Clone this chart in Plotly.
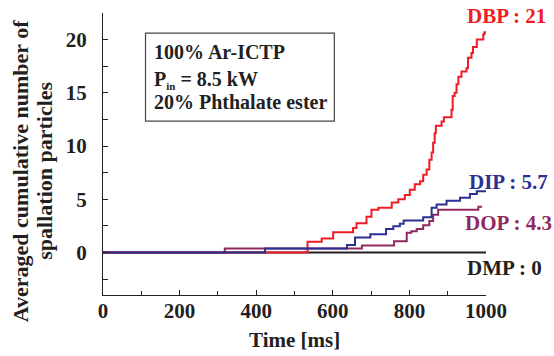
import plotly.graph_objects as go

# Step data (time in ms at which the cumulative count changes, value after step)
dbp_t = [0, 534, 571, 601, 653, 662, 688, 701, 719, 754, 771, 788, 801, 814, 828, 836, 845, 852,
         858, 862, 866, 869, 884, 890, 910, 913, 918, 923, 928, 936, 949, 953, 962, 966, 976, 993, 996, 1000]
dbp_v = [0, 1.0, 1.3, 1.9, 2.3, 2.75, 3.35, 4.0, 4.2, 4.7, 5.0, 5.4, 5.9, 6.4, 6.7, 7.3, 7.8, 8.7,
         9.4, 10.3, 11.2, 11.9, 12.3, 12.7, 13.4, 14.7, 15.0, 15.8, 16.5, 17.0, 17.3, 18.3, 18.75, 19.3, 20.0, 20.5, 20.7, 20.7]

dip_t = [0, 423, 637, 658, 698, 739, 758, 775, 785, 836, 858, 871, 897, 932, 958, 976, 1000]
dip_v = [0, 0.37, 0.69, 1.4, 1.7, 2.2, 2.45, 2.7, 3.0, 3.3, 4.2, 4.5, 4.85, 5.15, 5.5, 5.75, 5.75]

dop_t = [0, 318, 676, 760, 793, 805, 819, 836, 852, 862, 875, 980, 990]
dop_v = [0, 0.37, 0.65, 1.05, 1.85, 2.0, 2.2, 2.55, 2.95, 3.55, 4.0, 4.3, 4.3]

dmp_t = [0, 1000]
dmp_v = [0, 0]

labels = ["DBP : 21", "DIP : 5.7", "DOP : 4.3", "DMP : 0"]
x_ticks = [0, 200, 400, 600, 800, 1000]
y_ticks = [0, 5, 10, 15, 20]

RED = "#ee1c25"
BLUE = "#2b3192"
PURPLE = "#8e2a5e"
BLACK = "#231f20"
FONT = "Liberation Serif"

fig = go.Figure()
for t, v, c in [(dmp_t, dmp_v, BLACK), (dbp_t, dbp_v, RED), (dop_t, dop_v, PURPLE), (dip_t, dip_v, BLUE)]:
    fig.add_trace(go.Scatter(x=t, y=v, mode="lines", line=dict(color=c, width=2, shape="hv"),
                             showlegend=False, hoverinfo="skip"))

fig.update_layout(
    width=554, height=356,
    margin=dict(l=103, r=68, t=13, b=61),
    paper_bgcolor="white", plot_bgcolor="white",
    font=dict(family=FONT, color=BLACK),
)
fig.update_xaxes(range=[0, 1000], tickvals=x_ticks, showgrid=False, zeroline=False,
                 showline=True, linecolor=BLACK, linewidth=1.3,
                 ticks="inside", ticklen=5, tickwidth=1.2, tickcolor=BLACK,
                 minor=dict(dtick=100, ticks="inside", ticklen=4, tickwidth=1.2, tickcolor=BLACK),
                 tickfont=dict(family=FONT, size=21, color=BLACK, weight="bold"),
                 ticklabelstandoff=-3)
fig.update_yaxes(range=[-4, 22.5], tickvals=y_ticks, showgrid=False, zeroline=False,
                 showline=True, linecolor=BLACK, linewidth=1.3,
                 ticks="inside", ticklen=5, tickwidth=1.2, tickcolor=BLACK,
                 minor=dict(dtick=2.5, tick0=0, ticks="inside", ticklen=5, tickwidth=1.2, tickcolor=BLACK),
                 tickfont=dict(family=FONT, size=21, color=BLACK, weight="bold"),
                 ticklabelstandoff=11)

bold = lambda s: "<b>" + s + "</b>"
# axis titles
fig.add_annotation(xref="paper", yref="paper", x=0.5, y=-0.16, text=bold("Time [ms]"),
                   showarrow=False, xanchor="center", yanchor="middle",
                   font=dict(family=FONT, size=21, color=BLACK))
fig.add_annotation(xref="paper", yref="paper", x=-0.2134, y=0.44, text=bold("Averaged cumulative number of"),
                   showarrow=False, xanchor="center", yanchor="middle", textangle=-90,
                   font=dict(family=FONT, size=22, color=BLACK))
fig.add_annotation(xref="paper", yref="paper", x=-0.152, y=0.44, text=bold("spallation particles"),
                   showarrow=False, xanchor="center", yanchor="middle", textangle=-90,
                   font=dict(family=FONT, size=22, color=BLACK))

# series labels
for txt, c, px, py in zip(labels, [RED, BLUE, PURPLE, BLACK],
                          [0.946, 0.950, 0.9406, 0.946], [0.988, 0.402, 0.2567, 0.0948]):
    fig.add_annotation(xref="paper", yref="paper", x=px, y=py, text=bold(txt), showarrow=False,
                       xanchor="left", yanchor="middle", font=dict(family=FONT, size=21, color=c))

# condition box
fig.add_shape(type="rect", xref="x", yref="y", x0=111, x1=604, y0=12.33, y1=20.6,
              line=dict(color="#444444", width=1.2), fillcolor="white", layer="above")
for txt, yy in [("100% Ar-ICTP", 18.85), ("P<sub><span style='font-size:11px'>in</span></sub> = 8.5 kW", 16.2),
                ("20% Phthalate ester", 14.15)]:
    fig.add_annotation(xref="x", yref="y", x=128, y=yy, text=bold(txt), showarrow=False,
                       xanchor="left", yanchor="middle", font=dict(family=FONT, size=20, color=BLACK))

fig.write_html("out.html", config={"displayModeBar": False},
               post_script="document.body.style.margin='0';document.body.style.overflow='hidden';")
